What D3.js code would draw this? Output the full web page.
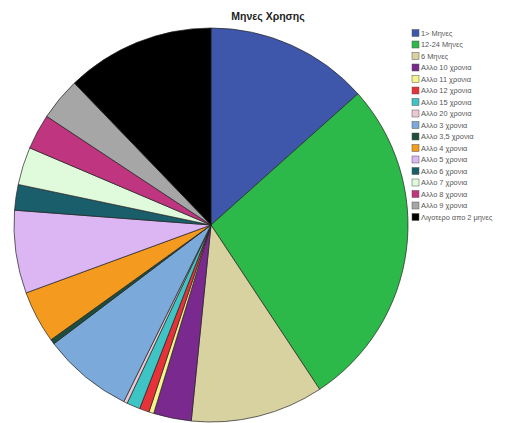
<!DOCTYPE html>
<html>
<head>
<meta charset="utf-8">
<script src="https://cdn.jsdelivr.net/npm/d3@7"></script>
<style>
  html, body { margin: 0; padding: 0; background: #fff; }
  svg { display: block; }
</style>
</head>
<body>
<svg id="chart" width="514" height="423"></svg>
<script>
// Categories of "Μηνες Χρησης" in legend / slice order
const categories = [
  "1> Μηνες", "12-24 Μηνες", "6 Μηνες",
  "Αλλο 10 χρονια", "Αλλο 11 χρονια", "Αλλο 12 χρονια", "Αλλο 15 χρονια",
  "Αλλο 20 χρονια", "Αλλο 3 χρονια", "Αλλο 3,5 χρονια", "Αλλο 4 χρονια",
  "Αλλο 5 χρονια", "Αλλο 6 χρονια", "Αλλο 7 χρονια", "Αλλο 8 χρονια",
  "Αλλο 9 χρονια", "Λιγοτερο απο 2 μηνες"
];
// Share of respondents per category (%)
const values = [13.4, 27.3, 10.9, 3.1, 0.4, 0.8, 1.1, 0.3, 7.4, 0.4, 4.3, 6.8, 2.1, 3.1, 2.9, 3.5, 12.2];
const colors = [
  "#3f57ab", "#2db84a", "#d8d1a0", "#7a2a8e", "#f6f58c", "#e8323a",
  "#3ec4c4", "#ecc9d2", "#7aa9da", "#1d4d3c", "#f49a1e", "#dcb6f2",
  "#1a5e6c", "#dffbdc", "#c0357f", "#a6a6a6", "#000000"
];
const title = "Μηνες Χρησης";

const svg = d3.select("#chart");
const cx = 211, cy = 225, r = 197;

const pie = d3.pie().sort(null).value(d => d.value);
const arc = d3.arc().innerRadius(0).outerRadius(r);
const data = categories.map((c, i) => ({ name: c, value: values[i], color: colors[i] }));

svg.append("g")
  .attr("transform", `translate(${cx},${cy})`)
  .selectAll("path")
  .data(pie(data))
  .join("path")
  .attr("d", arc)
  .attr("fill", d => d.data.color)
  .attr("stroke", "#222")
  .attr("stroke-width", 0.7);

svg.append("text")
  .attr("x", 268).attr("y", 20)
  .attr("text-anchor", "middle")
  .attr("font-family", "Liberation Sans, Arial, sans-serif")
  .attr("font-weight", "bold")
  .attr("font-size", 10.5)
  .attr("fill", "#222")
  .text(title);

// Legend
const legend = svg.append("g").attr("transform", "translate(412,33)");
const row = legend.selectAll("g")
  .data(data)
  .join("g")
  .attr("transform", (d, i) => `translate(0,${i * 11.5})`);
row.append("rect")
  .attr("x", 0).attr("y", -3.5)
  .attr("width", 7).attr("height", 7)
  .attr("fill", d => d.color)
  .attr("stroke", "#555")
  .attr("stroke-width", 0.5);
row.append("text")
  .attr("x", 9).attr("y", 2.5)
  .attr("font-family", "Liberation Sans, Arial, sans-serif")
  .attr("font-size", 7.4)
  .attr("fill", "#555")
  .text(d => d.name);
</script>
</body>
</html>
